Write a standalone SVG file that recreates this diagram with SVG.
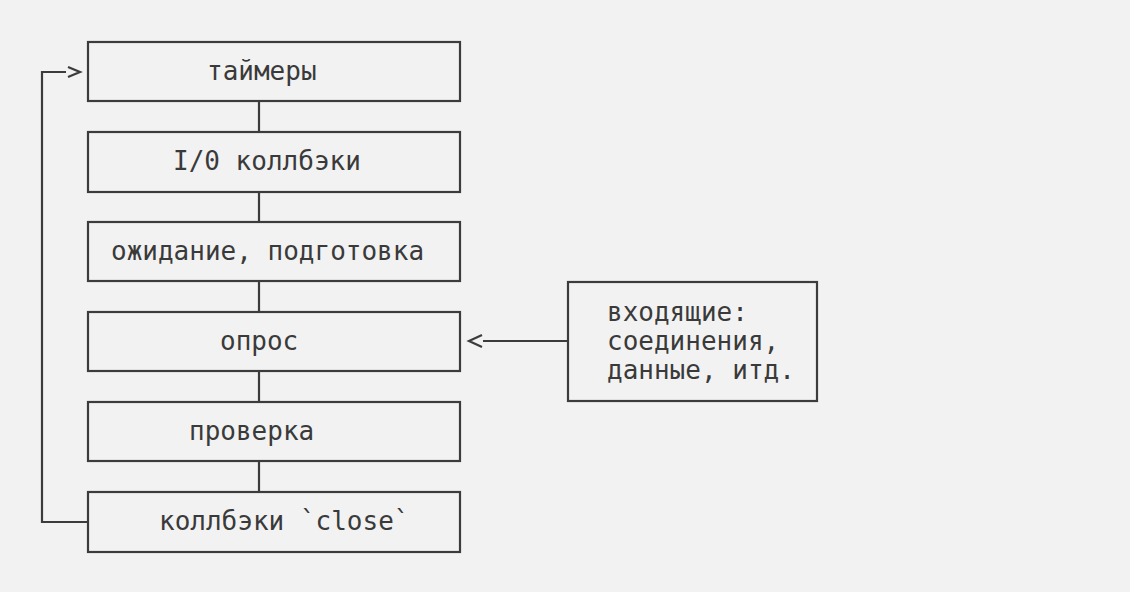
<svg xmlns="http://www.w3.org/2000/svg" width="1130" height="592" viewBox="0 0 1130 592">
<style>
.box{fill:none;stroke:#3c3c3c;stroke-width:2.2}
.ln{fill:none;stroke:#3c3c3c;stroke-width:2.2}
.t{font-family:"DejaVu Sans Mono","Liberation Mono",monospace;font-size:26px;fill:#3a3a3a}
</style>
<rect x="0" y="0" width="1130" height="592" fill="#f2f2f2"/>
<g id="connectors">
<path class="ln" d="M259,101 V132 M259,192 V222 M259,281 V312 M259,371 V402 M259,461 V492"/>
<path class="ln" d="M88,522 H42 V72 H66"/>
<path class="ln" d="M68,67 L80,72 L68,77"/>
<path class="ln" d="M568,341 H483"/>
<path class="ln" d="M482,335 L469,341 L482,347"/>
</g>
<g id="n1"><rect class="box" x="88" y="42" width="372" height="59"/><text class="t" x="207" y="80">таймеры</text></g>
<g id="n2"><rect class="box" x="88" y="132" width="372" height="60"/><text class="t" x="173" y="170">I/0 коллбэки</text></g>
<g id="n3"><rect class="box" x="88" y="222" width="372" height="59"/><text class="t" x="111" y="260">ожидание, подготовка</text></g>
<g id="n4"><rect class="box" x="88" y="312" width="372" height="59"/><text class="t" x="220" y="350">опрос</text></g>
<g id="n5"><rect class="box" x="88" y="402" width="372" height="59"/><text class="t" x="189" y="440">проверка</text></g>
<g id="n6"><rect class="box" x="88" y="492" width="372" height="60"/><text class="t" x="159" y="530">коллбэки `close`</text></g>
<g id="n7"><rect class="box" x="568" y="282" width="249" height="119"/><text class="t" x="607" y="321">входящие:</text><text class="t" x="607" y="350">соединения,</text><text class="t" x="607" y="379">данные, итд.</text></g>
</svg>
